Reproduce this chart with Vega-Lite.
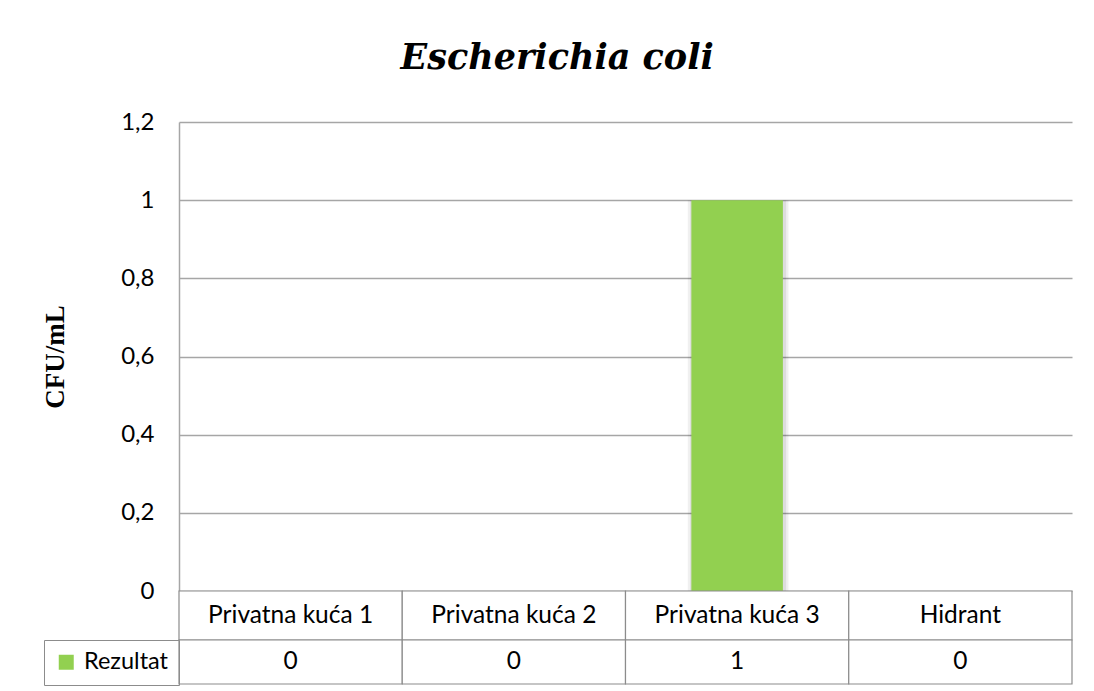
{
  "$schema": "https://vega.github.io/schema/vega-lite/v6.json",
  "padding": {"left": 41, "top": 41, "right": 20, "bottom": 5},
  "background": "white",
  "config": {"view": {"stroke": null}},
  "title": {"text": "Escherichia coli", "font": "DejaVu Serif", "fontSize": 35, "fontStyle": "italic", "fontWeight": "bold", "anchor": "middle", "frame": "bounds", "color": "black", "offset": 34},
  "data": {"values": [
    {"loc": "Privatna kuća 1", "value": 0},
    {"loc": "Privatna kuća 2", "value": 0},
    {"loc": "Privatna kuća 3", "value": 1},
    {"loc": "Hidrant", "value": 0}
  ]},
  "bounds": "flush",
  "spacing": 0,
  "vconcat": [
    {
      "width": 893,
      "height": 469,
      "encoding": {
        "x": {"field": "loc", "type": "nominal", "sort": null, "scale": {"paddingInner": 0.59, "paddingOuter": 0.295}, "axis": null},
        "y": {"field": "value", "type": "quantitative", "scale": {"domain": [0, 1.2], "nice": false},
          "axis": {"values": [0, 0.2, 0.4, 0.6, 0.8, 1, 1.2], "labelExpr": "replace(format(datum.value, '~g'), '.', ',')",
            "grid": true, "gridColor": "#a6a6a6", "gridWidth": 1.5, "domain": true, "domainColor": "#a6a6a6", "domainWidth": 1.5,
            "ticks": false, "labelPadding": 25, "labelFont": "Lato", "labelFontSize": 24, "labelColor": "black",
            "title": "CFU/mL", "titleFont": "Liberation Serif", "titleFontWeight": "bold", "titleFontSize": 27, "titleColor": "black", "titlePadding": 51}}
      },
      "layer": [
        {"mark": {"type": "bar", "color": "#000000", "opacity": 0.06, "width": {"band": 1.1}, "xOffset": 1}},
        {"mark": {"type": "bar", "color": "#000000", "opacity": 0.08, "width": {"band": 1.05}, "xOffset": 1}},
        {"mark": {"type": "bar", "color": "#92d050"}}
      ]
    },
    {
      "width": 893,
      "height": 49,
      "encoding": {
        "x": {"field": "loc", "type": "nominal", "sort": null, "scale": {"paddingInner": 0, "paddingOuter": 0}, "axis": null}
      },
      "layer": [
        {"mark": {"type": "rect", "fill": "white", "stroke": "#8c8c8c", "strokeWidth": 1.2}},
        {"mark": {"type": "text", "font": "Lato", "fontSize": 24.5, "color": "black"}, "encoding": {"text": {"field": "loc"}}}
      ]
    },
    {
      "width": 893,
      "height": 44,
      "encoding": {
        "x": {"field": "loc", "type": "nominal", "sort": null, "scale": {"paddingInner": 0, "paddingOuter": 0}, "axis": null}
      },
      "layer": [
        {"mark": {"type": "rect", "fill": "white", "stroke": "#8c8c8c", "strokeWidth": 1.2}},
        {"mark": {"type": "text", "font": "Lato", "fontSize": 24.5, "color": "black"}, "encoding": {"text": {"field": "value", "type": "quantitative"}}},
        {"mark": {"type": "square", "size": 0, "filled": true},
          "encoding": {"color": {"datum": "Rezultat", "scale": {"range": ["#92d050"]},
            "legend": {"title": null, "orient": "left", "offset": 0, "padding": 10.5, "strokeColor": "#8c8c8c", "symbolType": "square", "symbolSize": 225, "symbolStrokeWidth": 0, "symbolOpacity": 1, "labelFont": "Lato", "labelFontSize": 23.5, "labelColor": "black", "labelOffset": 6}}}}
      ]
    }
  ],
  "resolve": {"scale": {"x": "independent", "y": "independent", "color": "independent"}}
}
